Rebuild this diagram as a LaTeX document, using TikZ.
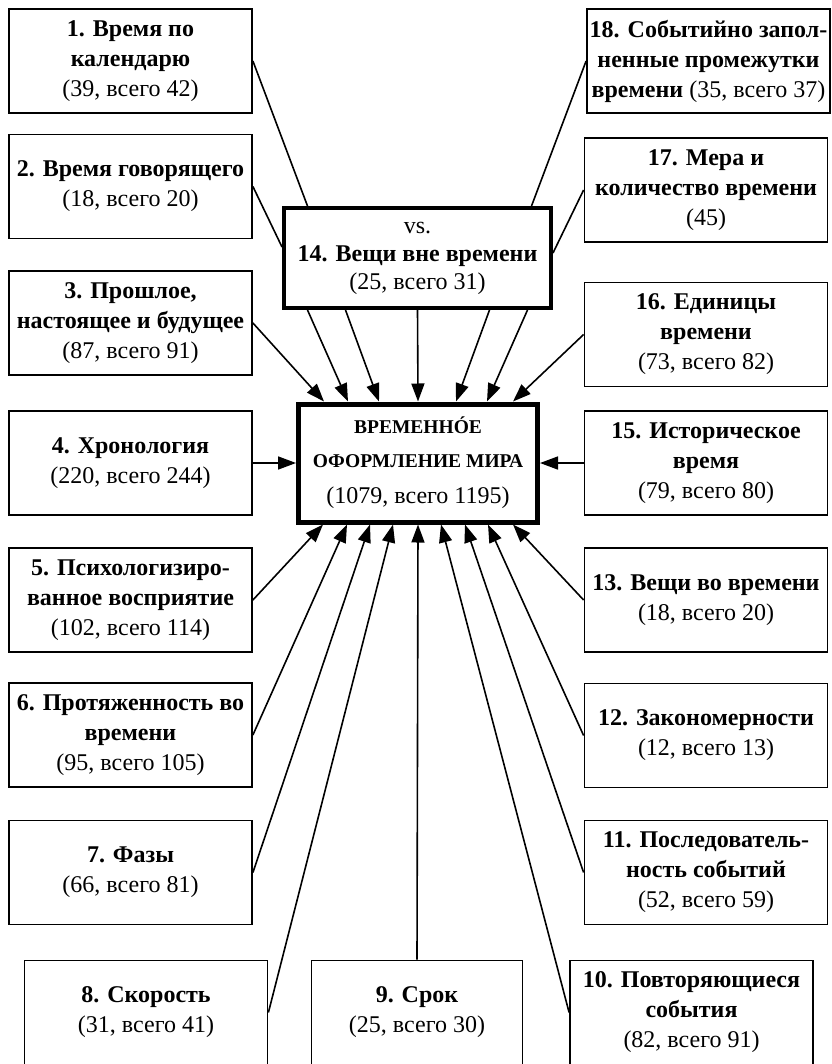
\documentclass[tikz,border=0pt]{standalone}
\usepackage{fontspec}
\setmainfont{Liberation Serif}
\usetikzlibrary{arrows.meta,calc}
\tikzset{
  box/.style={draw, line width=1.8pt, rectangle, inner sep=0pt, align=center,
    font=\fontsize{24}{30}\selectfont, minimum width=243pt, minimum height=104pt},
  line/.style={line width=1.6pt},
  arr/.style={line width=1.6pt, -{Triangle[length=18pt,width=13pt]}},
}
\begin{document}
\begin{tikzpicture}[x=1pt,y=-1pt]
\useasboundingbox (0,0) rectangle (831,1064);
\clip (0,0) rectangle (831,1064);
% central box
\node[box, line width=5pt, minimum width=239pt, minimum height=118pt,
  font=\fontsize{19.5}{34}\selectfont\bfseries] (main) at (418,463)
  {ВРЕМЕННÓЕ\\ОФОРМЛЕНИЕ МИРА\\[2pt]{\fontsize{24}{30}\selectfont\mdseries (1079, всего 1195)}};
\node[box, line width=4pt, minimum width=267pt, minimum height=100pt,
  font=\fontsize{24}{28}\selectfont] (b14) at (417.5,258)
  {vs.\\\textbf{14. Вещи вне времени}\\(25, всего 31)};
% left column
\node[box] (b1) at (130.5,61) {\textbf{1. Время по}\\\textbf{календарю}\\(39, всего 42)};
\node[box] (b2) at (130.5,186.5) {\textbf{2. Время говорящего}\\(18, всего 20)};
\node[box] (b3) at (130.5,323) {\textbf{3. Прошлое,}\\\textbf{настоящее и будущее}\\(87, всего 91)};
\node[box] (b4) at (130.5,463) {\textbf{4. Хронология}\\(220, всего 244)};
\node[box] (b5) at (130.5,600) {\textbf{5. Психологизиро-}\\\textbf{ванное восприятие}\\(102, всего 114)};
\node[box] (b6) at (130.5,735) {\textbf{6. Протяженность во}\\\textbf{времени}\\(95, всего 105)};
\node[box] (b7) at (130.5,872.5) {\textbf{7. Фазы}\\(66, всего 81)};
% bottom row
\node[box] (b8) at (146,1012.5) {\textbf{8. Скорость}\\(31, всего 41)};
\node[box, minimum width=211pt] (b9) at (417,1012.5) {\textbf{9. Срок}\\(25, всего 30)};
\node[box] (b10) at (691.5,1012.5) {\textbf{10. Повторяющиеся}\\\textbf{события}\\(82, всего 91)};
% right column
\node[box] (b11) at (706,872.5) {\textbf{11. Последователь-}\\\textbf{ность событий}\\(52, всего 59)};
\node[box] (b12) at (706,735.5) {\textbf{12. Закономерности}\\(12, всего 13)};
\node[box] (b13) at (706,600) {\textbf{13. Вещи во времени}\\(18, всего 20)};
\node[box] (b15) at (706,463) {\textbf{15. Историческое}\\\textbf{время}\\(79, всего 80)};
\node[box] (b16) at (706,334.5) {\textbf{16. Единицы}\\\textbf{времени}\\(73, всего 82)};
\node[box] (b17) at (706,190) {\textbf{17. Мера и}\\\textbf{количество времени}\\(45)};
\node[box] (b18) at (708.5,61) {\textbf{18. Событийно запол-}\\\textbf{ненные промежутки}\\\textbf{времени} (35, всего 37)};
% lines into box 14
\draw[line] (b1.east) -- ($(b14.north)+(-110,0)$);
\draw[line] (b2.east) -- ($(b14.west)+(0,-11)$);
\draw[line] (b18.west) -- ($(b14.north)+(114,0)$);
\draw[line] (b17.west) -- ($(b14.east)+(0,-5)$);
% arrows from box 14 to main
\draw[arr] ($(b14.south)+(-110,0)$) -- ($(main.north)+(-70,0)$);
\draw[arr] ($(b14.south)+(-72,0)$) -- ($(main.north)+(-39,0)$);
\draw[arr] (b14.south) -- (main.north);
\draw[arr] ($(b14.south)+(72,0)$) -- ($(main.north)+(38,0)$);
\draw[arr] ($(b14.south)+(110,0)$) -- ($(main.north)+(69,0)$);
% arrows from side boxes
\draw[arr] (b3.east) -- ($(main.north)+(-94,0)$);
\draw[arr] (b16.west) -- ($(main.north)+(95,0)$);
\draw[arr] (b4.east) -- (main.west);
\draw[arr] (b15.west) -- (main.east);
\draw[arr] (b5.east) -- ($(main.south)+(-95,0)$);
\draw[arr] (b6.east) -- ($(main.south)+(-71,0)$);
\draw[arr] (b7.east) -- ($(main.south)+(-48,0)$);
\draw[arr] (b8.east) -- ($(main.south)+(-25,0)$);
\draw[arr] (b9.north) -- (main.south);
\draw[arr] (b10.west) -- ($(main.south)+(23,0)$);
\draw[arr] (b11.west) -- ($(main.south)+(47,0)$);
\draw[arr] (b12.west) -- ($(main.south)+(70,0)$);
\draw[arr] (b13.west) -- ($(main.south)+(95,0)$);
\end{tikzpicture}
\end{document}
